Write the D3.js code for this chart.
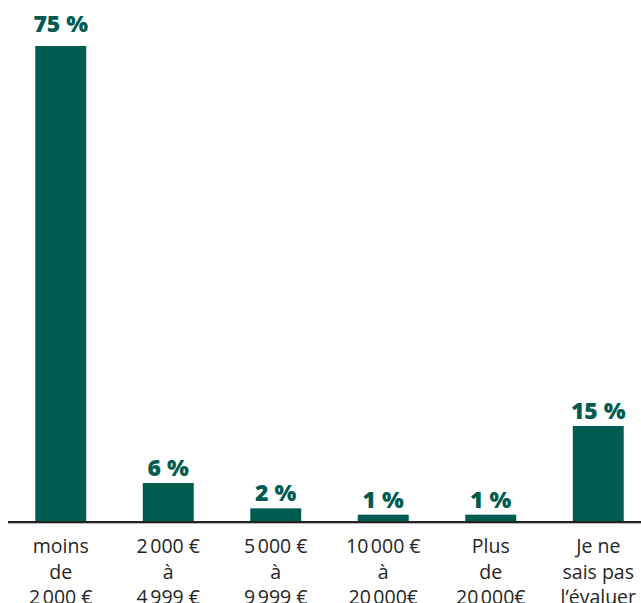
<!DOCTYPE html>
<html lang="fr">
<head>
<meta charset="utf-8">
<script src="https://cdnjs.cloudflare.com/ajax/libs/d3/7.8.5/d3.min.js"></script>
<style>
  body { margin: 0; background: #fff; }
  svg { display: block; }
  .value { font-family: 'Open Sans', sans-serif; font-weight: 800; font-size: 23px; fill: #005c51; }
  .cat { font-family: 'Open Sans', sans-serif; font-size: 19.5px; fill: #262626; }
</style>
</head>
<body>
<svg></svg>
<script>
var categories = ["moins|de|2\u202F000 €", "2\u202F000 €|à|4\u202F999 €", "5\u202F000 €|à|9\u202F999 €",
                  "10\u202F000 €|à|20\u202F000€", "Plus|de|20\u202F000€", "Je ne|sais pas|l’évaluer"];
var values = [75, 6, 2, 1, 1, 15];
var valueLabels = ["75 %", "6 %", "2 %", "1 %", "1 %", "15 %"];

var width = 641, height = 603;
var baseY = 521;

var svg = d3.select("svg").attr("width", width).attr("height", height);

var x = d3.scaleBand()
    .domain(categories)
    .range([7, 652])
    .paddingInner(0.526)
    .paddingOuter(0.263);

var y = d3.scaleLinear()
    .domain([0, 75])
    .range([baseY, 46]);

var maxVal = d3.max(values);

// bars
svg.selectAll("rect.bar")
  .data(values)
  .enter()
  .append("rect")
    .attr("class", "bar")
    .attr("x", (d, i) => x(categories[i]))
    .attr("y", d => y(d))
    .attr("width", x.bandwidth())
    .attr("height", d => baseY - y(d))
    .attr("fill", "#005c51");

// value labels (the tallest one sits a bit higher above its bar)
svg.selectAll("text.value")
  .data(values)
  .enter()
  .append("text")
    .attr("class", "value")
    .attr("x", (d, i) => x(categories[i]) + x.bandwidth() / 2)
    .attr("y", d => y(d) - (d === maxVal ? 14 : 7))
    .attr("text-anchor", "middle")
    .text((d, i) => valueLabels[i]);

// baseline
svg.append("line")
    .attr("x1", 8).attr("x2", width)
    .attr("y1", baseY + 2.5).attr("y2", baseY + 2.5)
    .attr("stroke", "#bbb").attr("stroke-width", 1);
svg.append("line")
    .attr("x1", 8).attr("x2", width)
    .attr("y1", baseY + 1).attr("y2", baseY + 1)
    .attr("stroke", "#222").attr("stroke-width", 2);

// category labels
var cats = svg.selectAll("text.cat")
  .data(categories)
  .enter()
  .append("text")
    .attr("class", "cat")
    .attr("text-anchor", "middle")
    .attr("transform", d => "translate(" + (x(d) + x.bandwidth() / 2) + ",0)");

cats.selectAll("tspan")
  .data(d => d.split("|"))
  .enter()
  .append("tspan")
    .attr("x", 0)
    .attr("y", (d, i) => 553 + i * 25.5)
    .text(d => d);
</script>
</body>
</html>
